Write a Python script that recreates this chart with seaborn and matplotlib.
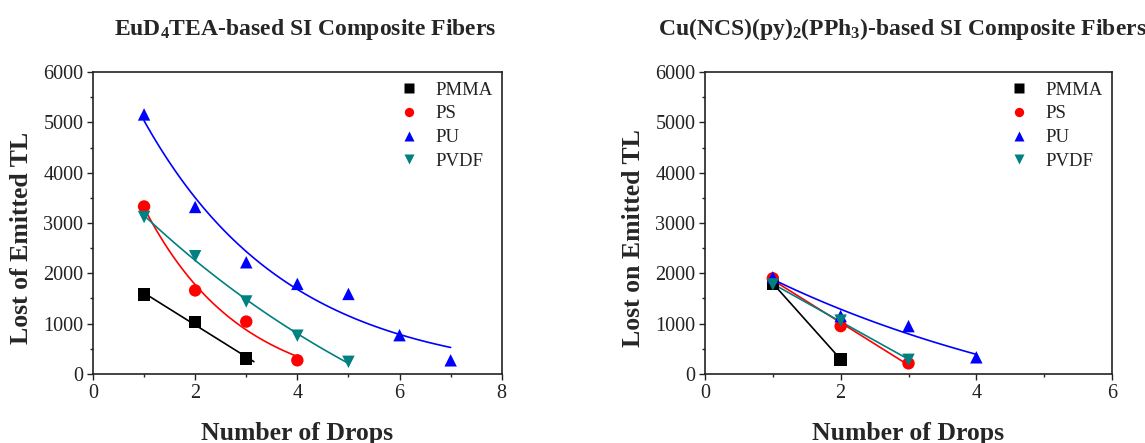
import numpy as np
import pandas as pd
import matplotlib.pyplot as plt
import seaborn as sns
from matplotlib.ticker import MultipleLocator

sns.set_style("ticks")
plt.rcParams["font.family"] = ["Liberation Serif", "DejaVu Serif"]
plt.rcParams["mathtext.default"] = "regular"

polymers = ["PMMA", "PS", "PU", "PVDF"]
colors = {"PMMA": "black", "PS": "red", "PU": "blue", "PVDF": "#008080"}
markers = {"PMMA": "s", "PS": "o", "PU": "^", "PVDF": "v"}

# EuD4TEA-based fibers
eu_drops = {
    "PMMA": [1, 2, 3],
    "PS": [1, 2, 3, 4],
    "PU": [1, 2, 3, 4, 5, 6, 7],
    "PVDF": [1, 2, 3, 4, 5],
}
eu_loss = {
    "PMMA": [1580, 1030, 310],
    "PS": [3330, 1660, 1040, 270],
    "PU": [5160, 3320, 2220, 1790, 1590, 770, 270],
    "PVDF": [3120, 2340, 1440, 760, 240],
}
eu_fit = {"PMMA": "linear", "PS": "exp", "PU": "exp", "PVDF": "exp"}

# Cu(NCS)(py)2(PPh3)-based fibers
cu_drops = {
    "PMMA": [1, 2],
    "PS": [1, 2, 3],
    "PU": [1, 2, 3, 4],
    "PVDF": [1, 2, 3],
}
cu_loss = {
    "PMMA": [1800, 290],
    "PS": [1900, 950, 210],
    "PU": [1920, 1150, 950, 330],
    "PVDF": [1780, 1060, 280],
}
cu_fit = {"PMMA": "linear", "PS": "linear", "PU": "exp", "PVDF": "linear"}


def fit_curve(x, y, kind, x_end=None):
    x = np.asarray(x, float)
    y = np.asarray(y, float)
    xs = np.linspace(x.min(), x_end if x_end else x.max(), 100)
    if kind == "linear":
        p = np.polyfit(x, y, 1)
        return xs, np.polyval(p, xs)
    # y = A*exp(-k*x) + c, grid search on k
    best = None
    for k in np.linspace(0.01, 3, 1500):
        M = np.column_stack([np.exp(-k * x), np.ones_like(x)])
        coef, *_ = np.linalg.lstsq(M, y, rcond=None)
        sse = np.sum((M @ coef - y) ** 2)
        if best is None or sse < best[0]:
            best = (sse, k, coef)
    _, k, (A, c) = best
    return xs, A * np.exp(-k * xs) + c


def build(drops, loss, fits, ends):
    pts, lines = [], []
    for p in polymers:
        pts.append(pd.DataFrame({"drops": drops[p], "loss": loss[p], "polymer": p}))
        xs, ys = fit_curve(drops[p], loss[p], fits[p], ends.get(p))
        lines.append(pd.DataFrame({"drops": xs, "loss": ys, "polymer": p}))
    return pd.concat(pts), pd.concat(lines)


fig = plt.figure(figsize=(11.45, 4.43), dpi=100)
ax1 = fig.add_axes([0.0812, 0.156, 0.357, 0.681])
ax2 = fig.add_axes([0.6157, 0.156, 0.3555, 0.681])

panels = [
    (ax1, eu_drops, eu_loss, eu_fit, {"PMMA": 3.15}, 8, 0.52, -0.146,
     "EuD$_4$TEA-based SI Composite Fibers", "Lost of Emitted TL"),
    (ax2, cu_drops, cu_loss, cu_fit, {}, 6, 0.485, -0.148,
     "Cu(NCS)(py)$_2$(PPh$_3$)-based SI Composite Fibers", "Lost on Emitted TL"),
]

for ax, drops, loss, fits, ends, xmax, tx, ly, title, ylabel in panels:
    pts, lines = build(drops, loss, fits, ends)
    sns.lineplot(data=lines, x="drops", y="loss", hue="polymer", palette=colors,
                 linewidth=1.2, legend=False, ax=ax, sort=False, estimator=None)
    sns.scatterplot(data=pts, x="drops", y="loss", hue="polymer", style="polymer",
                    palette=colors, markers=markers, s=80, edgecolor="none",
                    ax=ax, zorder=3)
    ax.set_xlim(0, xmax)
    ax.set_ylim(0, 6000)
    ax.xaxis.set_major_locator(MultipleLocator(2))
    ax.xaxis.set_minor_locator(MultipleLocator(1))
    ax.yaxis.set_major_locator(MultipleLocator(1000))
    ax.yaxis.set_minor_locator(MultipleLocator(500))
    ax.tick_params(which="major", length=4, width=1, labelsize=14.5,
                   colors="#222222", pad=3)
    ax.tick_params(which="minor", length=2.5, width=1)
    for s in ax.spines.values():
        s.set_linewidth(1.2)
        s.set_color("#222222")
    ax.set_title(title, fontsize=17, fontweight="bold", pad=27, x=tx)
    ax.set_xlabel("Number of Drops", fontsize=18.5, fontweight="bold", labelpad=14)
    ax.set_ylabel(ylabel, fontsize=18.5, fontweight="bold")
    ax.yaxis.set_label_coords(ly, 0.45)
    leg = ax.legend(loc="upper right", frameon=False, fontsize=13.5, title=None,
                    handlelength=1.0, handletextpad=0.9, labelspacing=0.35,
                    borderaxespad=0.1, markerscale=0.75)
    for t in leg.get_texts():
        t.set_color("#222222")

fig.savefig("out.png", dpi=100)
